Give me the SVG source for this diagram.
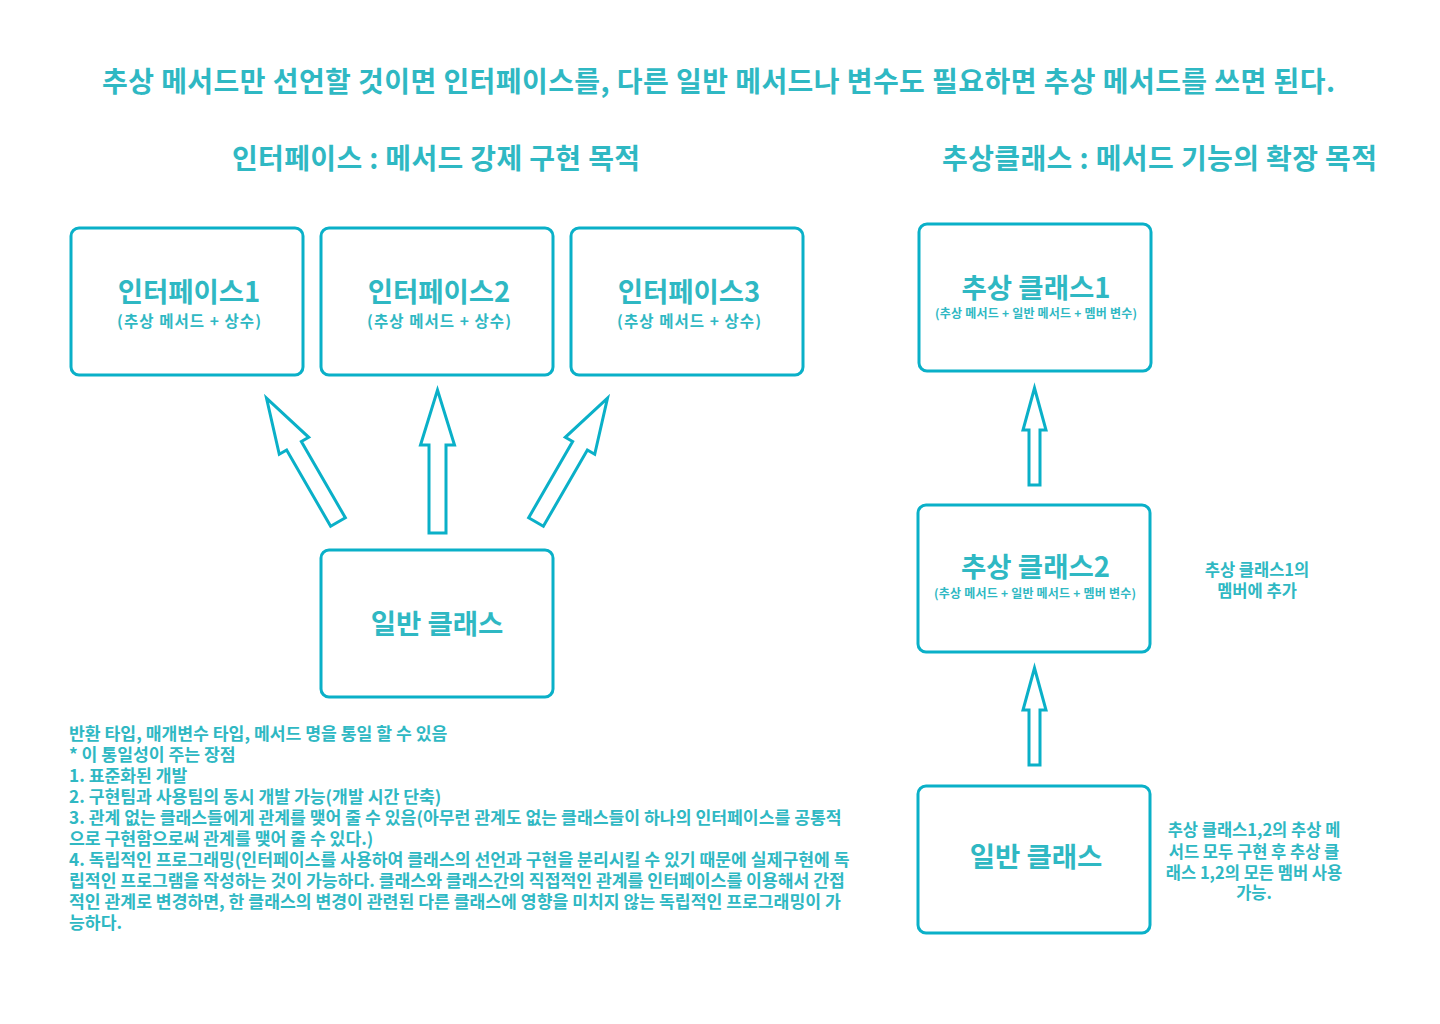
<svg xmlns="http://www.w3.org/2000/svg" width="1440" height="1024" viewBox="0 0 1440 1024">
<style>
text{font-family:"Noto Sans CJK KR","Noto Sans",sans-serif;font-weight:bold;fill:#2FB8C3}
.c{text-anchor:middle}
.box{fill:#fff;stroke:#0AB0C8;stroke-width:3}
.arr{fill:#fff;stroke:#0AB0C8;stroke-width:3;stroke-linejoin:miter}
.h1{font-size:28px}
.bt{font-size:27.5px}
.sub{font-size:15.5px}
.sub2{font-size:12px}
.note{font-size:16.5px}
.body{font-size:17.2px}
</style>
<defs>
<path id="bigArrow" d="M -8.5 0 L -8.5 -88 L -17 -88 L 0 -143 L 17 -88 L 8.5 -88 L 8.5 0 Z"/>
<path id="smallArrow" d="M -5.5 0 L -5.5 -55 L -11.5 -55 L 0 -97 L 11.5 -55 L 5.5 -55 L 5.5 0 Z"/>
</defs>
<rect width="1440" height="1024" fill="#fff"/>
<text class="h1" x="102" y="92" textLength="1233" lengthAdjust="spacing">추상 메서드만 선언할 것이면 인터페이스를, 다른 일반 메서드나 변수도 필요하면 추상 메서드를 쓰면 된다.</text>
<text class="h1" x="232" y="169" textLength="408" lengthAdjust="spacing">인터페이스 : 메서드 강제 구현 목적</text>
<text class="h1" x="942" y="169" textLength="435" lengthAdjust="spacing">추상클래스 : 메서드 기능의 확장 목적</text>

<g id="connectors">
<use href="#bigArrow" class="arr" transform="translate(338,522) rotate(-30)"/>
<use href="#bigArrow" class="arr" transform="translate(437.5,533)"/>
<use href="#bigArrow" class="arr" transform="translate(536,522) rotate(30)"/>
<use href="#smallArrow" class="arr" transform="translate(1034.5,485)"/>
<use href="#smallArrow" class="arr" transform="translate(1034.5,765)"/>
</g>

<g id="interface1">
<rect class="box" x="71" y="228" width="232" height="147" rx="8"/>
<text class="c bt" x="189" y="301.5">인터페이스1</text>
<text class="sub" x="117" y="326.5" textLength="144" lengthAdjust="spacing">(추상 메서드 + 상수)</text>
</g>
<g id="interface2">
<rect class="box" x="321" y="228" width="232" height="147" rx="8"/>
<text class="c bt" x="439" y="301.5">인터페이스2</text>
<text class="sub" x="367" y="326.5" textLength="144" lengthAdjust="spacing">(추상 메서드 + 상수)</text>
</g>
<g id="interface3">
<rect class="box" x="571" y="228" width="232" height="147" rx="8"/>
<text class="c bt" x="689" y="301.5">인터페이스3</text>
<text class="sub" x="617" y="326.5" textLength="144" lengthAdjust="spacing">(추상 메서드 + 상수)</text>
</g>
<g id="class-left">
<rect class="box" x="321" y="550" width="232" height="147" rx="8"/>
<text class="c bt" x="437" y="634">일반 클래스</text>
</g>

<g id="abstract1">
<rect class="box" x="919" y="224" width="232" height="147" rx="8"/>
<text class="c bt" x="1036" y="298">추상 클래스1</text>
<text class="sub2" x="935" y="318" textLength="202" lengthAdjust="spacing">(추상 메서드 + 일반 메서드 + 멤버 변수)</text>
</g>
<g id="abstract2">
<rect class="box" x="918" y="505" width="232" height="147" rx="8"/>
<text class="c bt" x="1035.5" y="577">추상 클래스2</text>
<text class="sub2" x="934" y="598" textLength="202" lengthAdjust="spacing">(추상 메서드 + 일반 메서드 + 멤버 변수)</text>
</g>
<g id="class-right">
<rect class="box" x="918" y="786" width="232" height="147" rx="8"/>
<text class="c bt" x="1036" y="867">일반 클래스</text>
</g>

<g id="note1">
<text class="c note" x="1257" y="575.5">추상 클래스1의</text>
<text class="c note" x="1257" y="596.5">멤버에 추가</text>
</g>
<g id="note2">
<text class="c note" x="1254" y="836">추상 클래스1,2의 추상 메</text>
<text class="c note" x="1254" y="858">서드 모두 구현 후 추상 클</text>
<text class="c note" x="1254" y="879">래스 1,2의 모든 멤버 사용</text>
<text class="c note" x="1254" y="899">가능.</text>
</g>

<g id="description">
<text class="body" x="69" y="740">반환 타입, 매개변수 타입, 메서드 명을 통일 할 수 있음</text>
<text class="body" x="69" y="761">* 이 통일성이 주는 장점</text>
<text class="body" x="69" y="782">1. 표준화된 개발</text>
<text class="body" x="69" y="803">2. 구현팀과 사용팀의 동시 개발 가능(개발 시간 단축)</text>
<text class="body" x="69" y="824">3. 관계 없는 클래스들에게 관계를 맺어 줄 수 있음(아무런 관계도 없는 클래스들이 하나의 인터페이스를 공통적</text>
<text class="body" x="69" y="845">으로 구현함으로써 관계를 맺어 줄 수 있다.)</text>
<text class="body" x="69" y="866">4. 독립적인 프로그래밍(인터페이스를 사용하여 클래스의 선언과 구현을 분리시킬 수 있기 때문에 실제구현에 독</text>
<text class="body" x="69" y="887">립적인 프로그램을 작성하는 것이 가능하다. 클래스와 클래스간의 직접적인 관계를 인터페이스를 이용해서 간접</text>
<text class="body" x="69" y="908">적인 관계로 변경하면, 한 클래스의 변경이 관련된 다른 클래스에 영향을 미치지 않는 독립적인 프로그래밍이 가</text>
<text class="body" x="69" y="929">능하다.</text>
</g>
</svg>
